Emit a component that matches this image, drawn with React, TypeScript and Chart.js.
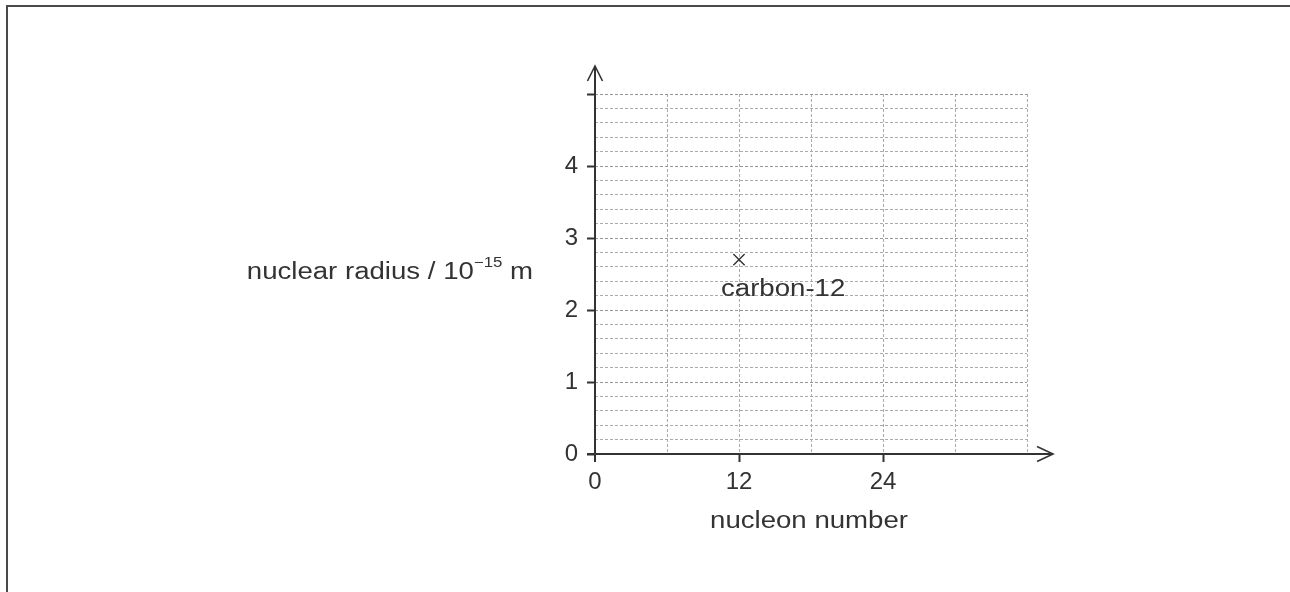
import React, { useEffect, useRef } from 'react';
import { Chart, registerables } from 'chart.js';

Chart.register(...registerables);

// ---- data ----
const nuclideNames = ['carbon-12'];
const nucleonNumbers = [12];
const nuclearRadii = [2.7];
const xTickValues = [0, 12, 24];
const yTickValues = [0, 1, 2, 3, 4];
const yTickMarkValues = [0, 1, 2, 3, 4, 5];
const xAxisMax = 36;
const yAxisMax = 5;
const xGridStep = 6;
const yGridStep = 0.2;
const xAxisTitle = 'nucleon number';
const yAxisTitleMain = 'nuclear radius / 10';
const yAxisTitleSup = '\u221215';
const yAxisTitleUnit = ' m';

// ---- style ----
const FONT = '"Liberation Sans", Arial, Helvetica, sans-serif';
const TEXT = '#333333';
const AXIS = '#333333';
const GRID = '#ababab';
const GRID_MAJOR = '#959595';
const SX = 1.2;
const TRANSPARENT = 'rgba(0,0,0,0)';

const isInt = (v: number) => Math.abs(v - Math.round(v)) < 1e-9;

function stretchedText(
  ctx: CanvasRenderingContext2D,
  s: string,
  x: number,
  y: number,
  align: 'left' | 'center' | 'right',
  size: number
) {
  ctx.save();
  ctx.font = `${size}px ${FONT}`;
  ctx.textBaseline = 'alphabetic';
  ctx.textAlign = 'left';
  const w = ctx.measureText(s).width * SX;
  const left = align === 'center' ? x - w / 2 : align === 'right' ? x - w : x;
  ctx.translate(left, y);
  ctx.scale(SX, 1);
  ctx.fillStyle = TEXT;
  ctx.fillText(s, 0, 0);
  ctx.restore();
  return w;
}

function measureStretched(ctx: CanvasRenderingContext2D, s: string, size: number) {
  ctx.save();
  ctx.font = `${size}px ${FONT}`;
  const w = ctx.measureText(s).width * SX;
  ctx.restore();
  return w;
}

const overlayPlugin = {
  id: 'overlay',
  afterDraw(chart: any) {
    const { ctx, chartArea } = chart;
    const xs = chart.scales.x;
    const ys = chart.scales.y;
    const x0 = xs.getPixelForValue(0);
    const y0 = ys.getPixelForValue(0);
    ctx.save();
    ctx.strokeStyle = AXIS;
    ctx.lineWidth = 2;
    ctx.lineCap = 'butt';
    ctx.lineJoin = 'miter';

    // y axis with arrow
    const yTop = chartArea.top - 28;
    ctx.beginPath();
    ctx.moveTo(x0, y0 + 8);
    ctx.lineTo(x0, yTop);
    ctx.stroke();
    ctx.lineWidth = 1.6;
    ctx.beginPath();
    ctx.moveTo(x0 - 7.5, yTop + 15);
    ctx.lineTo(x0, yTop);
    ctx.lineTo(x0 + 7.5, yTop + 15);
    ctx.stroke();

    // x axis with arrow
    const xEnd = chartArea.right + 26;
    ctx.lineWidth = 2;
    ctx.beginPath();
    ctx.moveTo(x0 - 8, y0);
    ctx.lineTo(xEnd, y0);
    ctx.stroke();
    ctx.lineWidth = 1.6;
    ctx.beginPath();
    ctx.moveTo(xEnd - 16, y0 - 7.5);
    ctx.lineTo(xEnd, y0);
    ctx.lineTo(xEnd - 16, y0 + 7.5);
    ctx.stroke();

    // x axis title
    stretchedText(ctx, xAxisTitle, (chartArea.left + chartArea.right) / 2 - 2, y0 + 74, 'center', 23);

    // y axis title (horizontal, with superscript)
    const mainW = measureStretched(ctx, yAxisTitleMain, 23);
    const supW = measureStretched(ctx, yAxisTitleSup, 14);
    const unitW = measureStretched(ctx, yAxisTitleUnit, 23);
    const total = mainW + supW + unitW;
    const right = x0 - 62;
    const base = (chartArea.top + chartArea.bottom) / 2 + 5;
    let cx = right - total;
    stretchedText(ctx, yAxisTitleMain, cx, base, 'left', 23);
    cx += mainW;
    stretchedText(ctx, yAxisTitleSup, cx, base - 12, 'left', 14);
    cx += supW;
    stretchedText(ctx, yAxisTitleUnit, cx, base, 'left', 23);

    // point labels
    const meta = chart.getDatasetMeta(0);
    meta.data.forEach((el: any, i: number) => {
      stretchedText(ctx, nuclideNames[i], el.x - 18, el.y + 36, 'left', 23);
    });
    ctx.restore();
  },
};

export default function App() {
  const ref = useRef<HTMLCanvasElement>(null);

  useEffect(() => {
    document.body.style.margin = '0';
    const canvas = ref.current;
    if (!canvas) return;
    const chart = new Chart(canvas, {
      type: 'scatter',
      data: {
        datasets: [
          {
            label: 'nuclei',
            data: nucleonNumbers.map((n, i) => ({ x: n, y: nuclearRadii[i] })),
            pointStyle: 'crossRot',
            pointRadius: 8,
            pointHoverRadius: 8,
            borderColor: '#333333',
            backgroundColor: '#333333',
            pointBorderWidth: 1.4,
            showLine: false,
          },
        ],
      },
      options: {
        animation: false,
        responsive: true,
        maintainAspectRatio: false,
        events: [],
        layout: { padding: { left: 0, top: 94, right: 263, bottom: 88 } },
        plugins: {
          legend: { display: false },
          tooltip: { enabled: false },
          title: { display: false },
        },
        scales: {
          x: {
            type: 'linear',
            position: 'bottom',
            min: 0,
            max: xAxisMax,
            afterFit: (scale: any) => {
              scale.height = 50;
            },
            ticks: {
              stepSize: xGridStep,
              autoSkip: false,
              maxRotation: 0,
              minRotation: 0,
              padding: 6,
              color: TEXT,
              font: { family: FONT, size: 24 },
              callback: (v: any) => (xTickValues.includes(Number(v)) ? String(v) : ''),
            },
            grid: {
              lineWidth: 1,
              drawTicks: true,
              tickLength: 8,
              tickWidth: 2,
              color: (c: any) => (c.tick && c.tick.value === 0 ? TRANSPARENT : GRID),
              tickColor: (c: any) =>
                c.tick && xTickValues.includes(c.tick.value) && c.tick.value !== 0 ? AXIS : TRANSPARENT,
            },
            border: { display: false, dash: [3, 2] },
          },
          y: {
            type: 'linear',
            position: 'left',
            min: 0,
            max: yAxisMax,
            afterFit: (scale: any) => {
              scale.width = 595;
            },
            ticks: {
              stepSize: yGridStep,
              autoSkip: false,
              padding: 9,
              color: TEXT,
              font: { family: FONT, size: 24 },
              callback: (v: any) => {
                const n = Number(v);
                return isInt(n) && yTickValues.includes(Math.round(n)) ? String(Math.round(n)) : '';
              },
            },
            grid: {
              lineWidth: 1,
              drawTicks: true,
              tickLength: 8,
              tickWidth: 2,
              color: (c: any) => {
                if (!c.tick) return GRID;
                const v = c.tick.value;
                if (Math.abs(v) < 1e-9) return TRANSPARENT;
                return isInt(v) ? GRID_MAJOR : GRID;
              },
              tickColor: (c: any) =>
                c.tick && isInt(c.tick.value) && yTickMarkValues.includes(Math.round(c.tick.value))
                  ? AXIS
                  : TRANSPARENT,
            },
            border: { display: false, dash: [3, 2] },
          },
        },
      },
      plugins: [overlayPlugin],
    } as any);
    return () => chart.destroy();
  }, []);

  return (
    <div
      style={{
        position: 'absolute',
        left: 0,
        top: 0,
        width: 1290,
        height: 592,
        background: '#ffffff',
        overflow: 'hidden',
      }}
    >
      <div
        style={{
          position: 'absolute',
          left: 6,
          top: 5,
          right: -10,
          bottom: -10,
          borderTop: '2px solid #4a4a4a',
          borderLeft: '2px solid #4a4a4a',
        }}
      />
      <div style={{ position: 'absolute', left: 0, top: 0, width: 1290, height: 592 }}>
        <canvas ref={ref} />
      </div>
    </div>
  );
}
